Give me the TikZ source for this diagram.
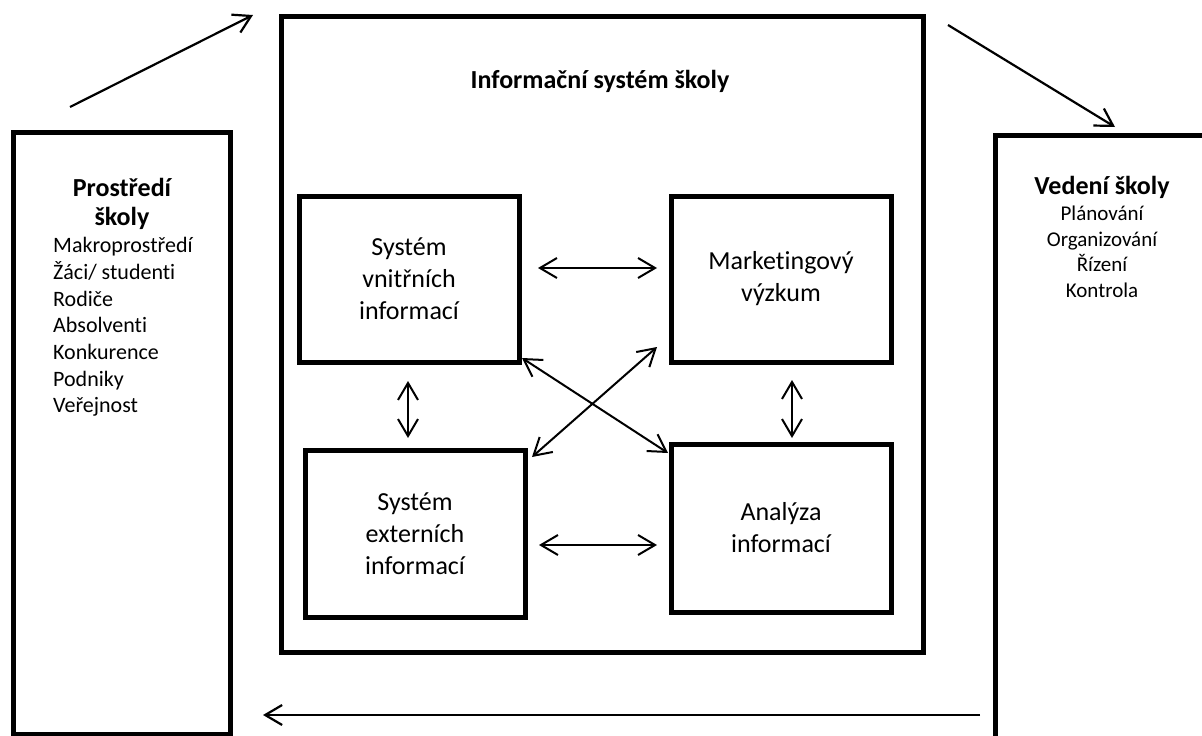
\documentclass[tikz,border=0pt]{standalone}
\usepackage{fontspec}
\setmainfont{Carlito}[Ligatures=NoCommon]
\usetikzlibrary{arrows.meta}
\tikzset{every node/.style={inner sep=0pt},
  box/.style={draw, line width=5pt, align=center, font=\fontsize{26}{32}\selectfont},
  head/.style={align=center, font=\fontsize{26}{29}\selectfont\bfseries},
  item/.style={font=\fontsize{22}{26.7}\selectfont},
  link/.style={line width=2pt, {Straight Barb[length=17pt,width=20pt]}-{Straight Barb[length=17pt,width=20pt]}},
  flow/.style={line width=2.2pt, -{Straight Barb[length=17pt,width=20pt]}}}

\begin{document}
\begin{tikzpicture}[x=1pt,y=-1pt]
  \useasboundingbox (0,0) rectangle (1202,736);

  \node[box, minimum width=217pt, minimum height=602pt] (env)  at (121.5,433) {};
  \node[box, minimum width=642pt, minimum height=636pt] (main) at (602,334) {};
  \node[box, minimum width=230pt, minimum height=620pt] (lead) at (1110,445) {};

  \node[head] (envtitle)  at (122,204) {Prostředí\\školy};
  \node[item, align=left, anchor=west] (envlist) at (53,327)
    {Makroprostředí\\Žáci/ studenti\\Rodiče\\Absolventi\\Konkurence\\Podniky\\Veřejnost};
  \node[head] (maintitle) at (600,81) {Informační systém školy};
  \node[head] (leadtitle) at (1102,187) {Vedení školy};
  \node[item, align=center, font=\fontsize{21}{25.5}\selectfont] (leadlist) at (1102,252)
    {Plánování\\Organizování\\Řízení\\Kontrola};

  \node[box, minimum width=220pt, minimum height=166pt] (svi) at (409,279)   {Systém\\vnitřních\\informací};
  \node[box, minimum width=220pt, minimum height=166pt] (mv)  at (781,279)   {Marketingový\\výzkum};
  \node[box, minimum width=220pt, minimum height=167pt] (sei) at (415,533.5) {Systém\\externích\\informací};
  \node[box, minimum width=220pt, minimum height=168pt] (ai)  at (781,528)   {Analýza\\informací};

  \draw[link, shorten <=16.5pt, shorten >=11.5pt] ([yshift=11pt]svi.east) -- ([yshift=11pt]mv.west);
  \draw[link, shorten <=11.5pt, shorten >=11.5pt] ([yshift=-11.5pt]sei.east) -- ([yshift=-17pt]ai.west);
  \draw[link, shorten <=16.5pt, shorten >=9.5pt] ([xshift=-1pt]svi.south) -- ([xshift=-7pt]sei.north);
  \draw[link, shorten <=15.5pt, shorten >=3.5pt] ([xshift=11pt]mv.south) -- ([xshift=11pt]ai.north);
  \draw[link] ([shift={(0.5pt,6.5pt)}]svi.south east) -- ([shift={(-0.5pt,-11.5pt)}]ai.north west);
  \draw[link] ([shift={(4.5pt,-9.5pt)}]sei.north east) -- ([shift={(-11.5pt,17.5pt)}]mv.south west);

  \draw[flow] ([shift={(-51.5pt,22.5pt)}]env.north) -- ([shift={(-25.5pt,-1.5pt)}]main.north west);
  \draw[flow] ([shift={(22.5pt,-11.5pt)}]main.north east) -- ([shift={(5pt,5.5pt)}]lead.north);
  \draw[flow] ([shift={(-12.5pt,-270pt)}]lead.west) -- ([shift={(30.5pt,-282pt)}]env.east);
\end{tikzpicture}
\end{document}
